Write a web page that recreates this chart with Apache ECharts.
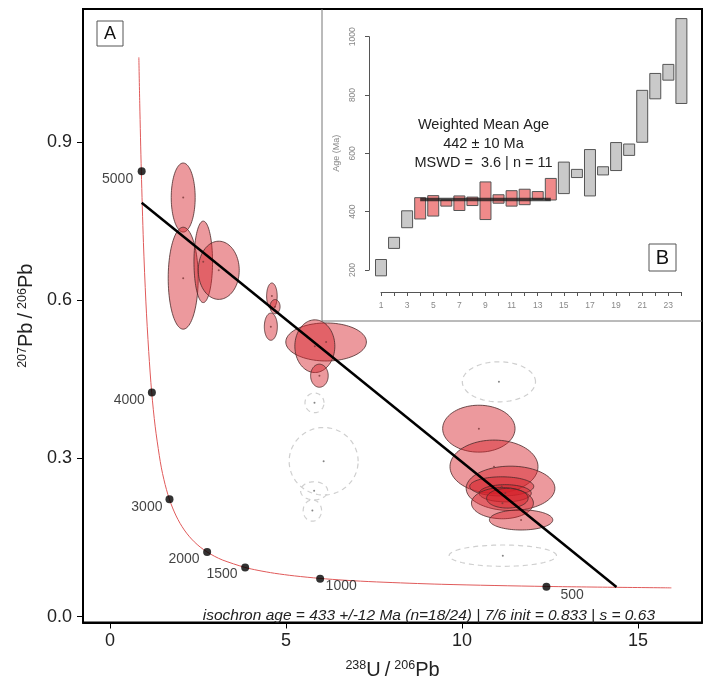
<!DOCTYPE html>
<html><head><meta charset="utf-8">
<script src="https://cdn.jsdelivr.net/npm/echarts@6/dist/echarts.min.js"></script>
<style>html,body{margin:0;padding:0;background:#fff}#c{width:705px;height:685px}</style>
</head><body><div id="c"></div>
<script>
// ---- Panel A: accepted analyses (238U/206Pb, 207Pb/206Pb, half-axes of error ellipses)
const accX  = [2.08, 2.08, 2.65, 3.09, 4.60, 4.69, 4.57, 6.14, 5.82, 5.95, 10.48, 10.91, 11.38, 11.13, 11.23, 11.15, 11.29, 11.68];
const accY  = [0.795, 0.642, 0.673, 0.657, 0.608, 0.588, 0.550, 0.521, 0.513, 0.457, 0.3565, 0.2844, 0.2433, 0.247, 0.234, 0.2152, 0.2245, 0.1834];
const accSx = [0.34, 0.426, 0.264, 0.582, 0.15, 0.142, 0.185, 1.145, 0.568, 0.25, 1.028, 1.25, 1.26, 0.91, 0.74, 0.88, 0.59, 0.90];
const accSy = [0.0655, 0.0967, 0.0773, 0.0552, 0.0249, 0.0135, 0.0258, 0.0361, 0.05, 0.0219, 0.0445, 0.0505, 0.0421, 0.0182, 0.0163, 0.0296, 0.0187, 0.0191];
// rejected analyses
const rejX  = [5.81, 6.07, 5.80, 5.75, 11.05, 11.16];
const rejY  = [0.4055, 0.2947, 0.2386, 0.2012, 0.4454, 0.1156];
const rejSx = [0.27, 0.98, 0.384, 0.261, 1.04, 1.525];
const rejSy = [0.0187, 0.064, 0.0172, 0.0202, 0.038, 0.0202];
// concordia curve
const concX = [0.82, 0.845, 0.89, 0.95, 1.02, 1.10, 1.185, 1.285, 1.40, 1.46, 1.53, 1.605, 1.687, 1.779, 1.880, 1.990, 2.111, 2.245, 2.394, 2.561, 2.749, 2.962, 3.206, 3.817, 4.206, 4.673, 5.245, 5.959, 6.674, 7.568, 9.426, 12.399, 15.95];
const concY = [1.061, 0.974, 0.845, 0.7095, 0.597, 0.503, 0.425, 0.360, 0.3058, 0.2822, 0.2605, 0.2408, 0.2227, 0.2061, 0.1909, 0.1770, 0.1643, 0.1526, 0.1419, 0.1320, 0.1230, 0.1147, 0.1071, 0.0936, 0.0877, 0.0822, 0.0772, 0.0725, 0.0690, 0.0658, 0.0613, 0.0572, 0.0545];
// age markers on concordia
const markerAges = ['5000', '4000', '3000', '2000', '1500', '1000', '500'];
const markerX = [0.90, 1.19, 1.69, 2.76, 3.84, 5.97, 12.40];
const markerY = [0.845, 0.425, 0.2227, 0.1225, 0.0930, 0.0720, 0.0565];
// isochron line
const isoX = [0.90, 14.39];
const isoY = [0.785, 0.056];
const xTicks = [0, 5, 10, 15];
const yTicks = [0, 0.3, 0.6, 0.9];

// ---- Panel B: ages (Ma)
const barIdx  = [1,2,3,4,5,6,7,8,9,10,11,12,13,14,15,16,17,18,19,20,21,22,23,24];
const barLow  = [180, 274, 345, 375, 385, 419, 404, 421, 373, 429, 419, 424, 443, 440, 462, 517, 454, 526, 541, 593, 638, 787, 851, 771];
const barHigh = [236, 312, 403, 448, 455, 440, 454, 450, 502, 458, 472, 477, 469, 514, 570, 545, 613, 554, 637, 632, 816, 874, 905, 1062];
const usedFrom = 4, usedTo = 14;
const meanAge = 442;
const bLabels = [1,3,5,7,9,11,13,15,17,19,21,23];

const FONT = 'Liberation Sans, Arial, Helvetica, sans-serif';

function ellipseRender(fill, stroke, lw, dash) {
  return function (params, api) {
    const cx = api.value(0), cy = api.value(1), sx = api.value(2), sy = api.value(3);
    const pts = [];
    for (let k = 0; k < 90; k++) {
      const a = k / 90 * 2 * Math.PI;
      pts.push(api.coord([cx + sx * Math.cos(a), cy + sy * Math.sin(a)]));
    }
    return { type: 'polygon', shape: { points: pts },
      style: { fill: fill, stroke: stroke, lineWidth: lw, lineDash: dash || null } };
  };
}

const accData = accX.map((v, i) => [v, accY[i], accSx[i], accSy[i]]);
const rejData = rejX.map((v, i) => [v, rejY[i], rejSx[i], rejSy[i]]);
const concData = concX.map((v, i) => [v, concY[i]]);
const labelCfg = [
  { position: 'left', distance: 4.5, offset: [0, 8] },
  { position: 'left', distance: 3, offset: [0, 8] },
  { position: 'left', distance: 3, offset: [0, 8] },
  { position: 'left', distance: 3.5, offset: [0, 7] },
  { position: 'left', distance: 3.5, offset: [0, 7] },
  { position: 'right', distance: 1.5, offset: [0, 7.5] },
  { position: 'right', distance: 10, offset: [0, 8] }
];
const markerData = markerAges.map((a, i) => ({ name: a, value: [markerX[i], markerY[i]], label: labelCfg[i] }));
const barData = barIdx.map((b, i) => [b, barLow[i], barHigh[i], (b >= usedFrom && b <= usedTo) ? 1 : 0]);

const chart = echarts.init(document.getElementById('c'), null, { renderer: 'canvas' });
chart.setOption({
  animation: false,
  textStyle: { fontFamily: FONT },
  grid: [
    { left: 83, top: 9, right: 3, bottom: 54, show: true, borderColor: '#000', borderWidth: 2, backgroundColor: 'transparent' },
    { left: 381, top: 36.7, right: 23.6, bottom: 415 }
  ],
  xAxis: [
    { type: 'value', gridIndex: 0, min: -0.767, max: 16.82,
      axisLine: { show: true, onZero: false, lineStyle: { color: '#000', width: 2 } },
      axisTick: { show: true, customValues: xTicks, length: 6, lineStyle: { color: '#000', width: 1 } },
      axisLabel: { customValues: xTicks, fontSize: 18, color: '#222', margin: 10, fontFamily: FONT },
      splitLine: { show: false },
      name: '{s|238}{n|U\u2009/\u2009}{s|206}{n|Pb}', nameLocation: 'middle', nameGap: 37,
      nameTextStyle: { color: '#222', fontFamily: FONT, rich: {
        s: { fontSize: 12.5, verticalAlign: 'top', padding: [0, 0, 8, 0], fontFamily: FONT, color: '#222' },
        n: { fontSize: 20, fontFamily: FONT, color: '#222' } } } },
    { type: 'value', gridIndex: 1, min: 1, max: 24, interval: 1, offset: 22,
      axisLine: { show: true, onZero: false, lineStyle: { color: '#555', width: 1 } },
      axisTick: { show: true, length: 4, lineStyle: { color: '#555' } },
      axisLabel: { customValues: bLabels, fontSize: 8.5, color: '#888', margin: 9, fontFamily: FONT },
      splitLine: { show: false } }
  ],
  yAxis: [
    { type: 'value', gridIndex: 0, min: -0.0112, max: 1.1527,
      axisLine: { show: true, onZero: false, lineStyle: { color: '#000', width: 2 } },
      axisTick: { show: true, customValues: yTicks, length: 6, lineStyle: { color: '#000', width: 1 } },
      axisLabel: { customValues: yTicks, fontSize: 18, color: '#222', margin: 11, fontFamily: FONT,
        formatter: v => Number(v).toFixed(1) },
      splitLine: { show: false },
      name: '{s|207}{n|Pb\u2009/\u2009}{s|206}{n|Pb}', nameLocation: 'middle', nameGap: 30, nameRotate: 90,
      nameTextStyle: { color: '#222', fontFamily: FONT, rich: {
        s: { fontSize: 12.5, verticalAlign: 'top', padding: [0, 0, 8, 0], fontFamily: FONT, color: '#222' },
        n: { fontSize: 20, fontFamily: FONT, color: '#222' } } } },
    { type: 'value', gridIndex: 1, min: 200, max: 1000, interval: 200, offset: 12,
      axisLine: { show: true, onZero: false, lineStyle: { color: '#555', width: 1 } },
      axisTick: { show: true, length: 4, lineStyle: { color: '#555' } },
      axisLabel: { rotate: 90, fontSize: 8.5, color: '#888', margin: 12, fontFamily: FONT, formatter: v => String(v) },
      splitLine: { show: false },
      name: 'Age (Ma)', nameLocation: 'middle', nameGap: 28, nameRotate: 90,
      nameTextStyle: { fontSize: 9, color: '#888', fontFamily: FONT } }
  ],
  series: [
    { type: 'custom', xAxisIndex: 0, yAxisIndex: 0, z: 2, data: rejData,
      renderItem: ellipseRender(null, '#cfcfcf', 1.2, [5, 4]) },
    { type: 'custom', xAxisIndex: 0, yAxisIndex: 0, z: 3, data: accData,
      renderItem: ellipseRender('rgba(214,32,42,0.46)', '#4a2a2a', 0.8) },
    { type: 'scatter', xAxisIndex: 0, yAxisIndex: 0, z: 4, symbolSize: 2, silent: true,
      itemStyle: { color: '#7a3a3a' }, data: accData.map(d => [d[0], d[1]]) },
    { type: 'scatter', xAxisIndex: 0, yAxisIndex: 0, z: 4, symbolSize: 2, silent: true,
      itemStyle: { color: '#666' }, data: rejData.map(d => [d[0], d[1]]) },
    { type: 'line', xAxisIndex: 0, yAxisIndex: 0, z: 5, data: concData, smooth: 0.3,
      symbol: 'none', lineStyle: { color: '#e05a5a', width: 1 } },
    { type: 'line', xAxisIndex: 0, yAxisIndex: 0, z: 6, data: isoX.map((v, i) => [v, isoY[i]]),
      symbol: 'none', lineStyle: { color: '#000', width: 2.5 } },
    { type: 'scatter', xAxisIndex: 0, yAxisIndex: 0, z: 7, symbolSize: 8, data: markerData,
      itemStyle: { color: '#000' },
      label: { show: true, formatter: '{b}', fontSize: 14, color: '#111', fontFamily: FONT } },
    // Panel B
    { type: 'custom', xAxisIndex: 1, yAxisIndex: 1, z: 3, data: barData,
      renderItem: function (params, api) {
        const p1 = api.coord([api.value(0) - 0.42, api.value(2)]);
        const p2 = api.coord([api.value(0) + 0.42, api.value(1)]);
        return { type: 'rect', shape: { x: p1[0], y: p1[1], width: p2[0] - p1[0], height: p2[1] - p1[1] },
          style: { fill: api.value(3) ? '#f08a8a' : '#c9c9c9', stroke: '#555', lineWidth: 1 } };
      } },
    { type: 'line', xAxisIndex: 1, yAxisIndex: 1, z: 5, data: [[usedFrom, meanAge], [usedTo, meanAge]],
      symbol: 'none', lineStyle: { color: 'rgba(20,20,20,0.75)', width: 3.5 } }
  ],
  graphic: [
    { type: 'polyline', z: 1, shape: { points: [[322, 9], [322, 321], [702, 321]] },
      style: { stroke: '#777', lineWidth: 1, fill: null } },
    { type: 'rect', z: 10, shape: { x: 97, y: 21, width: 26, height: 25 }, style: { fill: '#fff', stroke: '#555', lineWidth: 1 } },
    { type: 'text', z: 11, style: { x: 110, y: 34, text: 'A', fontSize: 18, fontFamily: FONT, fill: '#111', align: 'center', verticalAlign: 'middle' } },
    { type: 'rect', z: 10, shape: { x: 649, y: 244, width: 27, height: 27 }, style: { fill: '#fff', stroke: '#555', lineWidth: 1 } },
    { type: 'text', z: 11, style: { x: 662.5, y: 258, text: 'B', fontSize: 20, fontFamily: FONT, fill: '#111', align: 'center', verticalAlign: 'middle' } },
    { type: 'text', z: 11, style: { x: 483.5, y: 125, text: 'Weighted Mean Age', fontSize: 14.5, fontFamily: FONT, fill: '#222', align: 'center', verticalAlign: 'middle' } },
    { type: 'text', z: 11, style: { x: 483.5, y: 144, text: '442 \u00b1 10 Ma', fontSize: 14.5, fontFamily: FONT, fill: '#222', align: 'center', verticalAlign: 'middle' } },
    { type: 'text', z: 11, style: { x: 483.5, y: 163, text: 'MSWD =  3.6 | n = 11', fontSize: 14.5, fontFamily: FONT, fill: '#222', align: 'center', verticalAlign: 'middle' } },
    { type: 'text', z: 11, style: { x: 655, y: 616, text: 'isochron age = 433 +/-12 Ma (n=18/24) | 7/6 init = 0.833 | s = 0.63', fontSize: 15.5, fontStyle: 'italic', fontFamily: FONT, fill: '#222', align: 'right', verticalAlign: 'middle' } }
  ]
});
</script></body></html>
